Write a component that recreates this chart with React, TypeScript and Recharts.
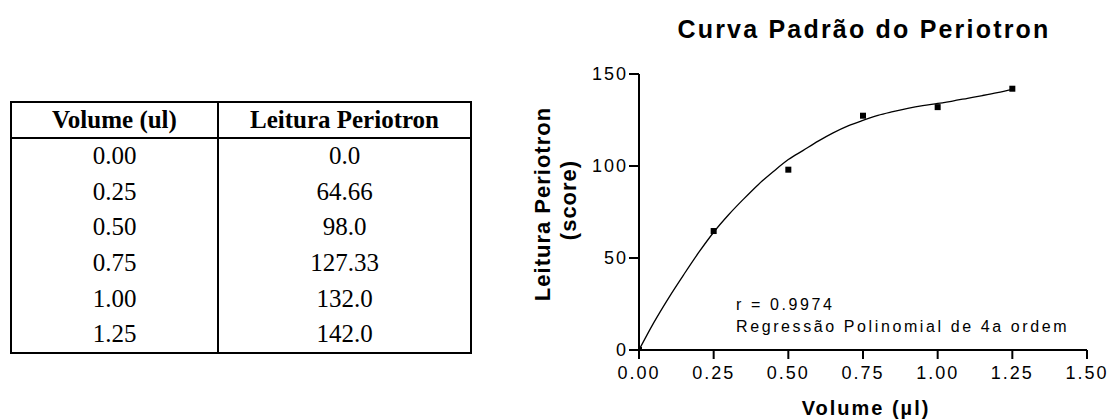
import React from "react";
import { ComposedChart, Line, Scatter, XAxis, YAxis, Customized } from "recharts";

// measured standard points
const volumes = [0, 0.25, 0.5, 0.75, 1.0, 1.25];
const readings = [0, 64.66, 98.0, 127.33, 132.0, 142.0];

// table text as printed
const volumeLabels = ["0.00", "0.25", "0.50", "0.75", "1.00", "1.25"];
const readingLabels = ["0.0", "64.66", "98.0", "127.33", "132.0", "142.0"];

// fitted curve (4th order)
const curveX = [0, 0.05, 0.1, 0.15, 0.2, 0.25, 0.3, 0.35, 0.4, 0.45, 0.5, 0.55, 0.6, 0.65, 0.7, 0.75, 0.8, 0.85, 0.9, 0.95, 1.0, 1.05, 1.1, 1.15, 1.2, 1.25];
const curveY = [0, 15, 28.5, 41, 53, 64, 73.5, 82, 90, 97, 103.5, 108.5, 113.5, 118, 121.8, 124.8, 127.5, 129.5, 131.3, 132.8, 134, 135.3, 136.8, 138.3, 139.9, 141.7];

const xTicks = [0, 0.25, 0.5, 0.75, 1.0, 1.25, 1.5];
const yTicks = [0, 50, 100, 150];

const points = volumes.map((x, i) => ({ x, y: readings[i] }));
const curve = curveX.map((x, i) => ({ x, y: curveY[i] }));

const SANS = '"Liberation Sans", Arial, sans-serif';
const SERIF = '"Liberation Serif", "Times New Roman", serif';

const Square = (props: any) => {
  const { cx, cy } = props;
  if (cx == null || cy == null) return null;
  return <rect x={cx - 3} y={cy - 3} width={6} height={6} fill="#000" />;
};

const Texts = () => (
  <g fontFamily={SANS} fill="#000">
    <text x={864} y={38} textAnchor="middle" fontSize={25} fontWeight="bold" letterSpacing={2.2}>
      Curva Padrão do Periotron
    </text>
    <text transform="translate(550,204) rotate(-90)" textAnchor="middle" fontSize={22} fontWeight="bold" letterSpacing={1}>
      Leitura Periotron
    </text>
    <text transform="translate(576,200) rotate(-90)" textAnchor="middle" fontSize={22} fontWeight="bold" letterSpacing={1}>
      (score)
    </text>
    <text x={866} y={415} textAnchor="middle" fontSize={20} fontWeight="bold" letterSpacing={2}>
      Volume (µl)
    </text>
    <text x={736} y={310} fontSize={16} letterSpacing={2.6}>
      r = 0.9974
    </text>
    <text x={736} y={332} fontSize={16} letterSpacing={2.6}>
      Regressão Polinomial de 4a ordem
    </text>
  </g>
);

const cellBorder = "2px solid #000";

function DataTable() {
  return (
    <table
      style={{
        position: "absolute",
        left: 10,
        top: 101,
        width: 462,
        borderCollapse: "collapse",
        border: cellBorder,
        fontFamily: SERIF,
        fontSize: 25,
        color: "#000",
      }}
    >
      <thead>
        <tr style={{ height: 36 }}>
          <th style={{ width: 205, border: cellBorder, padding: 0, fontWeight: "bold" }}>Volume (ul)</th>
          <th style={{ border: cellBorder, padding: 0, fontWeight: "bold" }}>Leitura Periotron</th>
        </tr>
      </thead>
      <tbody>
        {volumeLabels.map((v, i) => (
          <tr key={v} style={{ height: 35.8 }}>
            <td style={{ textAlign: "center", padding: 0, borderLeft: cellBorder, borderRight: cellBorder }}>{v}</td>
            <td style={{ textAlign: "center", padding: 0, borderLeft: cellBorder, borderRight: cellBorder }}>{readingLabels[i]}</td>
          </tr>
        ))}
      </tbody>
    </table>
  );
}

export default function App() {
  const tick = { fill: "#000", fontSize: 18, fontFamily: SANS, letterSpacing: 2 };
  return (
    <div style={{ position: "absolute", left: 0, top: 0, width: 1110, height: 420, background: "#fff" }}>
      <ComposedChart width={1110} height={420} margin={{ top: 74, right: 23, bottom: 40, left: 0 }}>
        <XAxis
          type="number"
          dataKey="x"
          domain={[0, 1.5]}
          ticks={xTicks}
          tickFormatter={(v) => Number(v).toFixed(2)}
          tick={tick}
          tickSize={9}
          tickMargin={7}
          height={30}
          axisLine={{ stroke: "#000", strokeWidth: 2 }}
          tickLine={{ stroke: "#000", strokeWidth: 2 }}
          allowDataOverflow
        />
        <YAxis
          type="number"
          dataKey="y"
          domain={[0, 150]}
          ticks={yTicks}
          tick={tick}
          tickSize={10}
          tickMargin={1}
          width={639}
          axisLine={{ stroke: "#000", strokeWidth: 2 }}
          tickLine={{ stroke: "#000", strokeWidth: 2 }}
          allowDataOverflow
        />
        <Line data={curve} dataKey="y" type="monotone" stroke="#000" strokeWidth={1.3} dot={false} isAnimationActive={false} />
        <Scatter data={points} dataKey="y" shape={<Square />} isAnimationActive={false} />
        <Customized component={Texts} />
      </ComposedChart>
      <DataTable />
    </div>
  );
}
